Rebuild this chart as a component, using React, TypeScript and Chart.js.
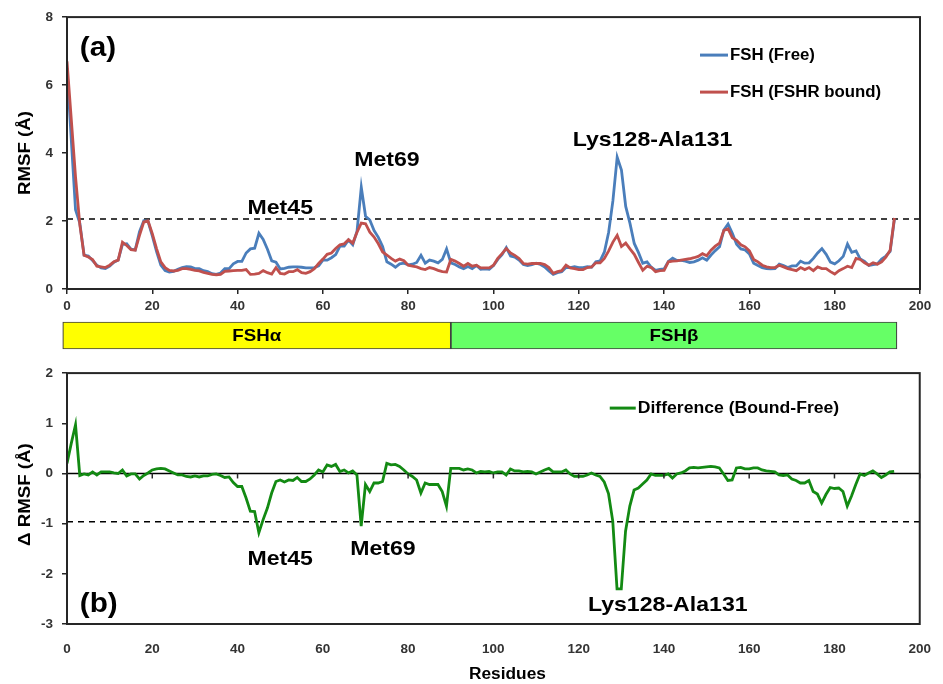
import { useEffect, useRef } from 'react';
import { Chart, registerables } from 'chart.js';

Chart.register(...registerables);

// ---------------- data ----------------
const residues = Array.from({ length: 195 }, (_, i) => i);

const rmsfFree = [
  6.5, 4.4, 2.33, 1.94, 1.0, 0.97, 0.84, 0.7, 0.62, 0.6,
  0.67, 0.79, 0.85, 1.31, 1.33, 1.17, 1.15, 1.69, 2.01, 1.99,
  1.56, 1.1, 0.7, 0.54, 0.5, 0.52, 0.58, 0.63, 0.66, 0.65,
  0.6, 0.6, 0.54, 0.51, 0.45, 0.43, 0.47, 0.6, 0.6, 0.74,
  0.81, 0.81, 1.06, 1.18, 1.2, 1.64, 1.46, 1.17, 0.83, 0.79,
  0.59, 0.61, 0.64, 0.65, 0.65, 0.64, 0.62, 0.62, 0.63, 0.68,
  0.85, 0.85, 0.92, 1.01, 1.26, 1.26, 1.44, 1.3, 1.7, 2.99,
  2.14, 2.03, 1.72, 1.52, 1.25, 0.8, 0.73, 0.64, 0.74, 0.76,
  0.71, 0.73, 0.78, 0.99, 0.76, 0.85, 0.82, 0.77, 0.87, 1.18,
  0.77, 0.72, 0.65, 0.6, 0.66, 0.6, 0.69, 0.58, 0.59, 0.58,
  0.69, 0.87, 1.01, 1.22, 0.97, 0.94, 0.85, 0.72, 0.69, 0.72,
  0.76, 0.72, 0.65, 0.53, 0.43, 0.48, 0.51, 0.63, 0.63, 0.66,
  0.63, 0.63, 0.66, 0.64, 0.8, 0.83, 1.09, 1.67, 2.6, 3.88,
  3.5, 2.43, 1.93, 1.34, 1.07, 0.76, 0.8, 0.64, 0.55, 0.58,
  0.59, 0.81, 0.91, 0.84, 0.84, 0.82, 0.78, 0.8, 0.85, 0.92,
  0.85, 1.0, 1.13, 1.24, 1.73, 1.91, 1.64, 1.32, 1.18, 1.15,
  1.03, 0.76, 0.69, 0.63, 0.6, 0.59, 0.6, 0.73, 0.69, 0.63,
  0.68, 0.68, 0.82, 0.76, 0.77, 0.9, 1.06, 1.19, 1.02, 0.79,
  0.74, 0.83, 0.96, 1.32, 1.08, 1.12, 0.88, 0.81, 0.69, 0.72,
  0.74, 0.88, 0.97, 1.11, 2.05,
];

const rmsfBound = [
  6.7, 5.0, 3.3, 1.9, 0.99, 0.94, 0.87, 0.67, 0.65, 0.63,
  0.7, 0.8, 0.85, 1.38, 1.28, 1.16, 1.14, 1.58, 1.97, 2.0,
  1.63, 1.19, 0.8, 0.63, 0.55, 0.53, 0.55, 0.6, 0.6, 0.58,
  0.55, 0.53, 0.49, 0.46, 0.43, 0.42, 0.43, 0.52, 0.53, 0.54,
  0.55, 0.55, 0.57, 0.43, 0.44, 0.46, 0.54, 0.48, 0.44, 0.63,
  0.46, 0.44, 0.51, 0.51, 0.57, 0.48, 0.46, 0.51, 0.6, 0.75,
  0.88, 1.02, 1.06, 1.19, 1.3, 1.33, 1.45, 1.35, 1.67, 1.94,
  1.92, 1.67, 1.53, 1.33, 1.09, 1.0, 0.9, 0.82, 0.88, 0.83,
  0.7, 0.67, 0.65, 0.6, 0.57, 0.63, 0.6, 0.55, 0.51, 0.5,
  0.87, 0.82, 0.75, 0.67, 0.75, 0.67, 0.7, 0.62, 0.62, 0.62,
  0.7, 0.9, 1.04, 1.19, 1.06, 0.99, 0.9, 0.75, 0.73, 0.75,
  0.75, 0.75, 0.72, 0.63, 0.46, 0.51, 0.54, 0.7, 0.62, 0.6,
  0.57, 0.57, 0.63, 0.65, 0.77, 0.77, 0.9, 1.12, 1.38, 1.58,
  1.25, 1.35, 1.18, 1.02, 0.78, 0.55, 0.67, 0.63, 0.51, 0.54,
  0.55, 0.8, 0.82, 0.83, 0.85, 0.87, 0.89, 0.92, 0.96, 1.04,
  0.98, 1.14, 1.26, 1.35, 1.72, 1.77, 1.51, 1.43, 1.3, 1.24,
  1.12, 0.87, 0.8, 0.7, 0.65, 0.63, 0.63, 0.7, 0.65, 0.6,
  0.57, 0.54, 0.63, 0.57, 0.63, 0.54, 0.65, 0.6, 0.6, 0.51,
  0.44, 0.54, 0.6, 0.67, 0.63, 0.9, 0.87, 0.77, 0.7, 0.77,
  0.73, 0.8, 0.94, 1.14, 2.09,
];

const rmsfDiff = [
  0.2, 0.6, 0.97, -0.04, -0.01, -0.03, 0.03, -0.03, 0.03, 0.03,
  0.03, 0.01, 0.0, 0.07, -0.05, -0.01, -0.01, -0.11, -0.04, 0.01,
  0.07, 0.09, 0.1, 0.09, 0.05, 0.01, -0.03, -0.03, -0.06, -0.07,
  -0.05, -0.07, -0.05, -0.05, -0.02, -0.01, -0.04, -0.08, -0.07, -0.18,
  -0.26, -0.26, -0.49, -0.75, -0.76, -1.18, -0.92, -0.69, -0.39, -0.16,
  -0.13, -0.17, -0.13, -0.14, -0.08, -0.16, -0.16, -0.11, -0.03, 0.07,
  0.03, 0.17, 0.14, 0.18, 0.04, 0.07, 0.01, 0.05, -0.03, -1.05,
  -0.22, -0.36, -0.19, -0.19, -0.16, 0.2, 0.17, 0.18, 0.14, 0.07,
  -0.01, -0.06, -0.13, -0.39, -0.19, -0.22, -0.22, -0.22, -0.36, -0.65,
  0.1, 0.1, 0.1, 0.07, 0.09, 0.07, 0.01, 0.04, 0.03, 0.04,
  0.01, 0.03, 0.03, -0.03, 0.09, 0.05, 0.05, 0.03, 0.04, 0.03,
  -0.01, 0.03, 0.07, 0.1, 0.03, 0.03, 0.03, 0.07, -0.01, -0.06,
  -0.06, -0.06, -0.03, 0.01, -0.03, -0.06, -0.17, -0.4, -0.95, -2.3,
  -2.3, -1.15, -0.65, -0.33, -0.29, -0.21, -0.13, -0.01, -0.04, -0.04,
  -0.04, -0.01, -0.09, -0.01, 0.01, 0.05, 0.11, 0.12, 0.11, 0.12,
  0.13, 0.14, 0.13, 0.11, -0.01, -0.14, -0.13, 0.11, 0.12, 0.09,
  0.09, 0.11, 0.11, 0.07, 0.05, 0.04, 0.03, -0.03, -0.04, -0.03,
  -0.11, -0.14, -0.19, -0.19, -0.14, -0.36, -0.41, -0.59, -0.42, -0.28,
  -0.3, -0.29, -0.36, -0.65, -0.45, -0.22, -0.01, -0.04, 0.01, 0.05,
  -0.01, -0.08, -0.03, 0.03, 0.04,
];

const rmsfCutoff = 2.06;
const diffCutoff = -0.96;

const domainLabels = ['FSHα', 'FSHβ'];
const domainStarts = [-1, 90];
const domainEnds = [90, 194.6];

const topAnnotations = [
  { text: 'Met45', x: 50, y: 2.37 },
  { text: 'Met69', x: 75, y: 3.78 },
  { text: 'Lys128-Ala131', x: 137.3, y: 4.39 },
];
const bottomAnnotations = [
  { text: 'Met45', x: 50, y: -1.71 },
  { text: 'Met69', x: 74.1, y: -1.51 },
  { text: 'Lys128-Ala131', x: 140.9, y: -2.63 },
];

// ---------------- styles ----------------
const FONT = '"Liberation Sans", Arial, Helvetica, sans-serif';
const BLUE = '#4A7EBB';
const RED = '#C0504D';
const GREEN = '#138A13';
const AXIS = '#262626';
const TICK_TEXT = '#333333';
const W = 943;
const LINE_W = 2.8;

function drawText(ctx: CanvasRenderingContext2D, text: string, x: number, y: number, size: number, align: CanvasTextAlign, sx = 1.1, rotate = 0) {
  ctx.save();
  ctx.translate(x, y);
  if (rotate) ctx.rotate(rotate);
  ctx.scale(sx, 1);
  ctx.font = `bold ${size}px ${FONT}`;
  ctx.fillStyle = '#000';
  ctx.textAlign = align;
  ctx.textBaseline = 'middle';
  ctx.fillText(text, 0, 0);
  ctx.restore();
}

const framePlugin = {
  id: 'frame',
  afterDatasetsDraw(chart: any) {
    const { ctx, chartArea: a } = chart;
    ctx.save();
    ctx.strokeStyle = AXIS;
    ctx.lineWidth = 2;
    ctx.strokeRect(a.left, a.top, a.right - a.left, a.bottom - a.top);
    ctx.restore();
  },
};

function xyData(values: number[]) {
  return residues.map((r, i) => ({ x: r, y: values[i] }));
}

function axisCommon(min: number, max: number, step: number, pad: number, showGrid = true) {
  return {
    type: 'linear' as const,
    min,
    max,
    ticks: { stepSize: step, color: TICK_TEXT, font: { family: FONT, size: 13.5, weight: 'bold' as const }, padding: pad },
    grid: { display: showGrid, drawOnChartArea: false, drawTicks: true, tickLength: 5, color: AXIS, lineWidth: 1.5 },
    border: { display: false },
  };
}

export default function App() {
  const topRef = useRef<HTMLCanvasElement>(null);
  const barRef = useRef<HTMLCanvasElement>(null);
  const botRef = useRef<HTMLCanvasElement>(null);

  useEffect(() => {
    const charts: Chart[] = [];

    // ---------- top panel ----------
    const topLabels = {
      id: 'topLabels',
      afterDraw(chart: any) {
        const { ctx, chartArea: a, scales } = chart;
        const xs = scales.x, ys = scales.y;
        drawText(ctx, '(a)', xs.getPixelForValue(3), ys.getPixelForValue(7.07), 27, 'left');
        topAnnotations.forEach((t) => drawText(ctx, t.text, xs.getPixelForValue(t.x), ys.getPixelForValue(t.y), 21, 'center'));
        drawText(ctx, 'RMSF (Å)', 25, (a.top + a.bottom) / 2, 17, 'center', 1.1, -Math.PI / 2);
        const items = [
          { label: 'FSH (Free)', color: BLUE, y: a.top + 38 },
          { label: 'FSH (FSHR bound)', color: RED, y: a.top + 75 },
        ];
        items.forEach((it) => {
          ctx.save();
          ctx.strokeStyle = it.color;
          ctx.lineWidth = 3;
          ctx.beginPath();
          ctx.moveTo(a.right - 220, it.y);
          ctx.lineTo(a.right - 192, it.y);
          ctx.stroke();
          ctx.restore();
          drawText(ctx, it.label, a.right - 190, it.y, 16, 'left', 1.05);
        });
      },
    };

    charts.push(
      new Chart(topRef.current!, {
        type: 'line',
        data: {
          datasets: [
            { label: 'FSH (FSHR bound)', data: xyData(rmsfBound), borderColor: RED, borderWidth: LINE_W, pointRadius: 0, tension: 0 },
            { label: 'FSH (Free)', data: xyData(rmsfFree), borderColor: BLUE, borderWidth: LINE_W, pointRadius: 0, tension: 0 },
            { label: 'cutoff', data: [{ x: 0, y: rmsfCutoff }, { x: 200, y: rmsfCutoff }], borderColor: '#000', borderWidth: 1.5, borderDash: [6, 5], pointRadius: 0 },
          ],
        },
        options: {
          animation: false,
          responsive: false,
          maintainAspectRatio: false,
          layout: { padding: { left: 0, top: 15, right: 23, bottom: 0 } },
          plugins: { legend: { display: false }, tooltip: { enabled: false } },
          scales: {
            x: { ...axisCommon(0, 200, 20, 4), afterFit: (s: any) => { s.height = 29; } },
            y: { ...axisCommon(0, 8, 2, 9), afterFit: (s: any) => { s.width = 67; } },
          },
        } as any,
        plugins: [framePlugin, topLabels],
      })
    );

    // ---------- domain bar ----------
    const barLabels = {
      id: 'barLabels',
      afterDatasetsDraw(chart: any) {
        const { ctx, chartArea: a, scales } = chart;
        domainLabels.forEach((lab, i) => {
          const cx = scales.x.getPixelForValue((domainStarts[i] + domainEnds[i]) / 2);
          drawText(ctx, lab, cx, (a.top + a.bottom) / 2 + 1, 17, 'center');
        });
      },
    };
    const domainColors = ['#FFFF00', '#66FF66'];
    charts.push(
      new Chart(barRef.current!, {
        type: 'bar',
        data: {
          labels: ['domain'],
          datasets: domainLabels.map((lab, i) => ({
            label: lab,
            data: [[domainStarts[i], domainEnds[i]]],
            backgroundColor: domainColors[i],
            borderColor: '#404040',
            borderWidth: 1.2,
            borderSkipped: false,
            barPercentage: 1,
            categoryPercentage: 1,
            grouped: false,
            clip: false,
          })),
        },
        options: {
          animation: false,
          responsive: false,
          maintainAspectRatio: false,
          indexAxis: 'y',
          layout: { padding: { left: 67, right: 23, top: 6, bottom: 7 } },
          plugins: { legend: { display: false }, tooltip: { enabled: false } },
          scales: {
            x: { type: 'linear', min: 0, max: 200, display: false },
            y: { display: false },
          },
        } as any,
        plugins: [barLabels],
      })
    );

    // ---------- bottom panel ----------
    const botLabels = {
      id: 'botLabels',
      afterDraw(chart: any) {
        const { ctx, chartArea: a, scales } = chart;
        const xs = scales.x, ys = scales.y;
        const y0 = ys.getPixelForValue(0);
        ctx.save();
        ctx.strokeStyle = AXIS;
        ctx.lineWidth = 1.5;
        xs.ticks.forEach((t: any) => {
          const px = xs.getPixelForValue(t.value);
          ctx.beginPath();
          ctx.moveTo(px, y0);
          ctx.lineTo(px, y0 + 5);
          ctx.stroke();
        });
        ctx.restore();
        drawText(ctx, '(b)', xs.getPixelForValue(3), ys.getPixelForValue(-2.61), 27, 'left');
        bottomAnnotations.forEach((t) => drawText(ctx, t.text, xs.getPixelForValue(t.x), ys.getPixelForValue(t.y), 21, 'center'));
        drawText(ctx, 'Δ RMSF (Å)', 25, (a.top + a.bottom) / 2 - 4, 17, 'center', 1.1, -Math.PI / 2);
        drawText(ctx, 'Residues', xs.getPixelForValue(103.3), a.bottom + 51, 16, 'center', 1.08);
        const ly = a.top + 35;
        ctx.save();
        ctx.strokeStyle = GREEN;
        ctx.lineWidth = 3;
        ctx.beginPath();
        ctx.moveTo(a.right - 310, ly);
        ctx.lineTo(a.right - 284, ly);
        ctx.stroke();
        ctx.restore();
        drawText(ctx, 'Difference (Bound-Free)', a.right - 282, ly, 16, 'left', 1.1);
      },
    };

    charts.push(
      new Chart(botRef.current!, {
        type: 'line',
        data: {
          datasets: [
            { label: 'Difference (Bound-Free)', data: xyData(rmsfDiff), borderColor: GREEN, borderWidth: LINE_W, pointRadius: 0, tension: 0 },
            { label: 'zero', data: [{ x: 0, y: 0 }, { x: 200, y: 0 }], borderColor: '#000', borderWidth: 1.5, pointRadius: 0 },
            { label: 'cutoff', data: [{ x: 0, y: diffCutoff }, { x: 200, y: diffCutoff }], borderColor: '#000', borderWidth: 1.5, borderDash: [6, 5], pointRadius: 0 },
          ],
        },
        options: {
          animation: false,
          responsive: false,
          maintainAspectRatio: false,
          layout: { padding: { left: 0, top: 15, right: 23, bottom: 0 } },
          plugins: { legend: { display: false }, tooltip: { enabled: false } },
          scales: {
            x: { ...axisCommon(0, 200, 20, 12, false), afterFit: (s: any) => { s.height = 60; } },
            y: { ...axisCommon(-3, 2, 1, 9), afterFit: (s: any) => { s.width = 67; } },
          },
        } as any,
        plugins: [framePlugin, botLabels],
      })
    );

    return () => charts.forEach((c) => c.destroy());
  }, []);

  return (
    <div style={{ position: 'absolute', left: 0, top: 0, width: W, height: 684, background: '#fff' }}>
      <canvas ref={topRef} width={W} height={318} style={{ position: 'absolute', left: 0, top: 0, display: 'block' }} />
      <canvas ref={barRef} width={W} height={40} style={{ position: 'absolute', left: 0, top: 316, display: 'block' }} />
      <canvas ref={botRef} width={W} height={328} style={{ position: 'absolute', left: 0, top: 356, display: 'block' }} />
    </div>
  );
}
